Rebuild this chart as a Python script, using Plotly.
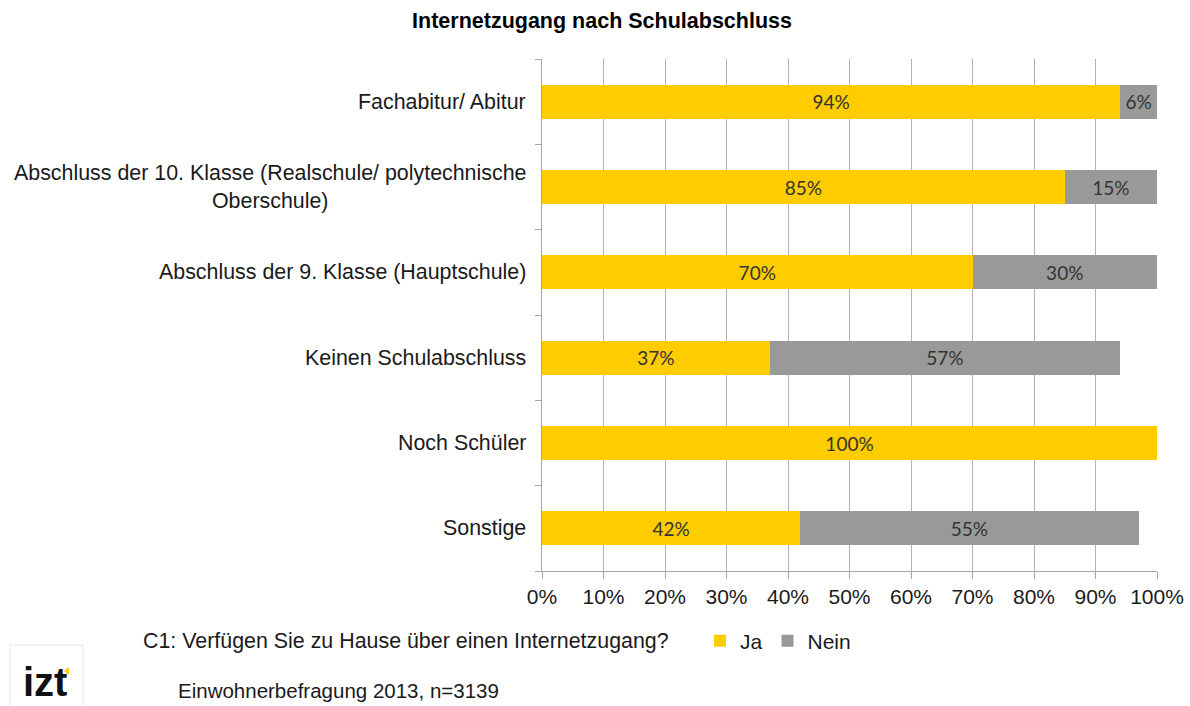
import plotly.graph_objects as go

# Survey answers per school-leaving qualification (share of respondents, %)
categories = [
    "Fachabitur/ Abitur",
    "Abschluss der 10. Klasse (Realschule/ polytechnische<br>Oberschule)",
    "Abschluss der 9. Klasse (Hauptschule)",
    "Keinen Schulabschluss",
    "Noch Schüler",
    "Sonstige",
]
ja_values = [94, 85, 70, 37, 100, 42]
nein_values = [6, 15, 30, 57, 0, 55]
x_ticks = [0, 10, 20, 30, 40, 50, 60, 70, 80, 90, 100]
x_tick_labels = [f"{v}%" for v in x_ticks]

YELLOW = "#FFCC00"
GREY = "#999999"
LABEL_FONT = dict(family="Lato, 'Open Sans', sans-serif", size=19, color="#333333")
TEXT_FONT = "Liberation Sans, Arial, sans-serif"
TEXT_SIZE = 21

# page layout (pixels)
W, H = 1190, 706
PL, PR, PT, PB = 542, 1157, 59, 571  # plot area edges


def px_x(x):
    """page x pixel -> paper coordinate"""
    return (x - PL) / (PR - PL)


def px_y(y):
    """page y pixel -> paper coordinate"""
    return (PB - y) / (PB - PT)


def pct_labels(values):
    return [f"{v}%" if v > 0 else "" for v in values]


cat_ids = list(range(len(categories)))

fig = go.Figure()
fig.add_trace(go.Bar(
    name="Ja", y=cat_ids, x=ja_values, orientation="h",
    marker=dict(color=YELLOW, line=dict(width=0)),
    text=pct_labels(ja_values), textposition="inside", insidetextanchor="middle",
    textfont=LABEL_FONT, hoverinfo="skip",
))
fig.add_trace(go.Bar(
    name="Nein", y=cat_ids, x=nein_values, orientation="h",
    marker=dict(color=GREY, line=dict(width=0)),
    text=pct_labels(nein_values), textposition="inside", insidetextanchor="middle",
    textfont=LABEL_FONT, hoverinfo="skip",
))

# category labels, centred line by line, right-aligned to the axis
for i, name in enumerate(categories):
    fig.add_annotation(
        x=px_x(528), xref="paper", y=i, yref="y", text=name, showarrow=False,
        xanchor="right", yanchor="middle", align="center",
        font=dict(family=TEXT_FONT, size=21.4, color="#1a1a1a"),
    )

# question text in front of the legend
fig.add_annotation(
    x=px_x(141), xref="paper", y=px_y(641), yref="paper",
    text="C1: Verfügen Sie zu Hause über einen Internetzugang?",
    showarrow=False, xanchor="left", yanchor="middle",
    font=dict(family=TEXT_FONT, size=21.4, color="#1a1a1a"),
)
# source line
fig.add_annotation(
    x=px_x(176), xref="paper", y=px_y(690), yref="paper",
    text="Einwohnerbefragung 2013, n=3139",
    showarrow=False, xanchor="left", yanchor="middle",
    font=dict(family=TEXT_FONT, size=20.5, color="#1a1a1a"),
)

fig.update_layout(
    width=W, height=H,
    margin=dict(l=PL, r=W - PR, t=PT, b=H - PB, autoexpand=False),
    paper_bgcolor="white", plot_bgcolor="white",
    barmode="stack", bargap=0.6,
    title=dict(
        text="<b>Internetzugang nach Schulabschluss</b>",
        x=602 / W, xanchor="center", y=1 - 20 / H, yanchor="middle",
        font=dict(family=TEXT_FONT, size=21.5, color="#000000"),
    ),
    xaxis=dict(
        range=[0, 100], tickvals=x_ticks, ticktext=x_tick_labels,
        showgrid=True, gridcolor="#b3b3b3", gridwidth=1,
        showline=True, linecolor="#a6a6a6", linewidth=1,
        ticks="outside", ticklen=7, tickcolor="#a6a6a6",
        tickfont=dict(family=TEXT_FONT, size=TEXT_SIZE, color="#1a1a1a"),
        zeroline=False, fixedrange=True, automargin=False,
    ),
    yaxis=dict(
        range=[len(categories) - 0.5, -0.5],
        tickvals=[i - 0.5 for i in range(len(categories) + 1)],
        showticklabels=False,
        showgrid=False, zeroline=False,
        showline=True, linecolor="#a6a6a6", linewidth=1,
        ticks="outside", ticklen=6, tickcolor="#a6a6a6",
        fixedrange=True, automargin=False,
    ),
    showlegend=True,
    legend=dict(
        orientation="h", x=px_x(700), xanchor="left", y=px_y(641), yanchor="middle",
        font=dict(family=TEXT_FONT, size=TEXT_SIZE, color="#1a1a1a"),
        traceorder="normal", bgcolor="rgba(0,0,0,0)",
    ),
)

# izt logo: light frame, bold lettering and a small yellow wedge
fig.add_shape(type="rect", xref="paper", yref="paper",
              x0=px_x(10), x1=px_x(83), y0=px_y(712), y1=px_y(645),
              line=dict(color="#e6e6e6", width=1), fillcolor="white")
fig.add_annotation(
    x=px_x(45), xref="paper", y=px_y(682), yref="paper", text="<b>izt</b>",
    showarrow=False, xanchor="center", yanchor="middle",
    font=dict(family=TEXT_FONT, size=40, color="#111111"),
)
fig.add_shape(type="path", xref="paper", yref="paper",
              path=(f"M {px_x(69)},{px_y(667)} L {px_x(64)},{px_y(671)} "
                    f"L {px_x(69)},{px_y(675)} Z"),
              line=dict(width=0), fillcolor=YELLOW)

fig.write_html("out.html")
